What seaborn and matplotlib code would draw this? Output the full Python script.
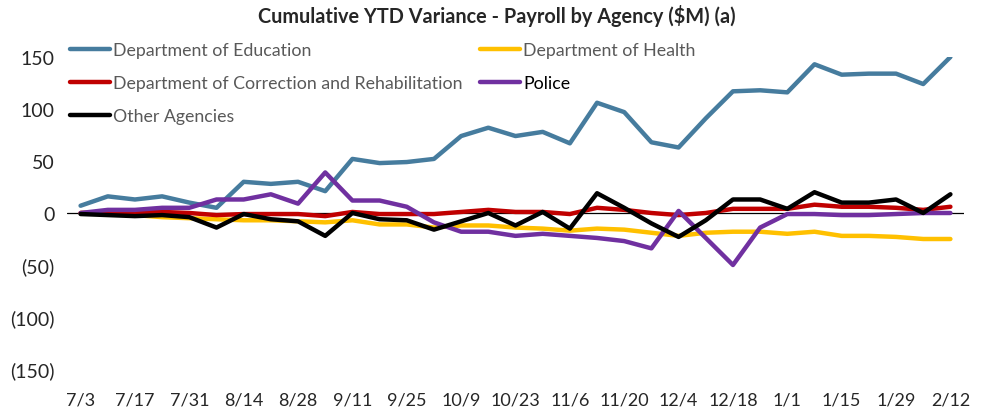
import numpy as np
import pandas as pd
import matplotlib
matplotlib.use("Agg")
import matplotlib.pyplot as plt
from matplotlib.lines import Line2D
import seaborn as sns

# weekly points, every other week labelled
weeks = ['7/3', '7/10', '7/17', '7/24', '7/31', '8/7', '8/14', '8/21', '8/28', '9/4',
         '9/11', '9/18', '9/25', '10/2', '10/9', '10/16', '10/23', '10/30', '11/6', '11/13',
         '11/20', '11/27', '12/4', '12/11', '12/18', '12/25', '1/1', '1/8', '1/15', '1/22',
         '1/29', '2/5', '2/12']

education = [7, 16, 13, 16, 10, 5, 30, 28, 30, 21, 52, 48, 49, 52, 74, 82, 74, 78, 67, 106,
             97, 68, 63, 91, 117, 118, 116, 143, 133, 134, 134, 124, 150]
health = [0, -1, -2, -4, -5, -6, -7, -7, -8, -9, -7, -11, -11, -14, -12, -12, -14, -15, -17, -15,
          -16, -19, -22, -19, -18, -18, -20, -18, -22, -22, -23, -25, -25]
correction = [0, 1, 1, 1, 0, -2, -1, -1, -1, -3, 1, -1, -1, -1, 1, 3, 1, 1, -1, 5,
              3, 0, -2, 0, 4, 4, 4, 8, 6, 6, 5, 3, 6]
police = [0, 3, 3, 5, 5, 13, 13, 18, 9, 39, 12, 12, 6, -9, -18, -18, -22, -20, -22, -24,
          -27, -34, 2, -24, -50, -14, -1, -1, -2, -2, -1, 0, 0]
other = [-1, -2, -3, -2, -4, -14, -1, -6, -8, -22, 0, -6, -7, -16, -8, 0, -12, 1, -15, 19,
         5, -10, -23, -7, 13, 13, 4, 20, 10, 10, 13, 0, 18]

agencies = ['Department of Education', 'Department of Health',
            'Department of Correction and Rehabilitation', 'Police', 'Other Agencies']
colors = ['#467C9E', '#FFC000', '#C00000', '#7030A0', '#000000']
yticks = [150, 100, 50, 0, -50, -100, -150]
ytick_labels = ['150', '100', '50', '0', '(50)', '(100)', '(150)']

df = pd.DataFrame({
    'week': np.tile(np.arange(len(weeks)), len(agencies)),
    'agency': np.repeat(agencies, len(weeks)),
    'value': education + health + correction + police + other,
})

sns.set_style("white")
plt.rcParams['font.family'] = ['Lato', 'DejaVu Sans']

fig = plt.figure(figsize=(9.93, 4.14), dpi=100)
ax = fig.add_axes([67 / 993, 1 - 370 / 414, (964 - 67) / 993, (370 - 58) / 414])

ax.axhline(0, color='black', lw=0.9, zorder=1)
sns.lineplot(data=df, x='week', y='value', hue='agency', hue_order=agencies,
             palette=colors, linewidth=3.2, legend=False, ax=ax, zorder=2)

ax.set_xlim(-0.5, len(weeks) - 0.5)
ax.set_ylim(-150, 150)
ax.set_xticks(range(0, len(weeks), 2))
ax.set_xticklabels(weeks[::2], fontsize=13)
ax.set_yticks(yticks)
ax.set_yticklabels(ytick_labels, fontsize=14)
ax.tick_params(axis='x', length=0, pad=16)
ax.tick_params(axis='y', length=0, pad=9)
ax.set_xlabel('')
ax.set_ylabel('')
for s in ax.spines.values():
    s.set_visible(False)

# legend: col 1 -> education, correction, other ; col 2 -> health, police
order = [0, 2, 4, 1, 3]
handles = [Line2D([], [], color=colors[i], lw=3.2) for i in order]
labels = [agencies[i] for i in order]
leg = fig.legend(handles, labels, loc='upper left', bbox_to_anchor=(70 / 993, 1 - 43 / 414),
                 ncol=2, frameon=False, fontsize=12.8, handlelength=2.25, handletextpad=0.17,
                 labelspacing=0.97, columnspacing=1.0, borderaxespad=0, borderpad=0)
for t in leg.get_texts():
    t.set_color('black' if t.get_text() == 'Police' else '#595959')

fig.text(0.5, 1 - 16 / 414, 'Cumulative YTD Variance - Payroll by Agency (\\$M) (a)',
         ha='center', va='center', fontsize=14.3, fontweight='bold')

fig.savefig('out.png', dpi=100)
